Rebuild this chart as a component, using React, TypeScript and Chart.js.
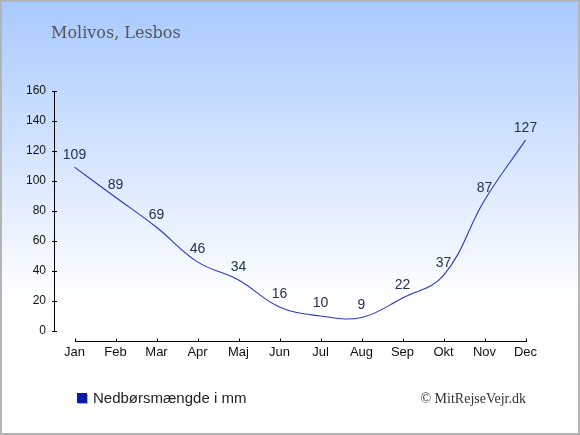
import { useEffect, useRef } from 'react';
import { Chart, registerables } from 'chart.js';

Chart.register(...registerables);

const months = ['Jan', 'Feb', 'Mar', 'Apr', 'Maj', 'Jun', 'Jul', 'Aug', 'Sep', 'Okt', 'Nov', 'Dec'];
const precipitation = [109, 89, 69, 46, 34, 16, 10, 9, 22, 37, 87, 127];
const yMin = 0;
const yMax = 160;
const yStep = 20;
const chartTitle = 'Molivos, Lesbos';
const seriesLabel = 'Nedbørsmængde i mm';
const credit = '© MitRejseVejr.dk';

export default function App() {
  const ref = useRef<HTMLCanvasElement>(null);

  useEffect(() => {
    document.body.style.margin = '0';
    const canvas = ref.current;
    if (!canvas) return;

    const decor = {
      id: 'decor',
      beforeDraw(chart: any) {
        const { ctx, width, height } = chart;
        ctx.save();
        const g = ctx.createLinearGradient(0, 0, 0, 300);
        g.addColorStop(0, '#a8c9ff');
        g.addColorStop(1, '#ffffff');
        ctx.fillStyle = g;
        ctx.fillRect(0, 0, width, height);
        ctx.restore();
      },
      afterDraw(chart: any) {
        const { ctx, chartArea, width, height } = chart;
        const xs = chart.scales.x;
        const ys = chart.scales.y;
        ctx.save();
        ctx.strokeStyle = '#000000';
        ctx.lineWidth = 1;
        // y axis
        const ax = Math.round(chartArea.left) + 0.5;
        const yTop = Math.round(ys.getPixelForValue(yMax)) + 0.5;
        const yBot = Math.round(ys.getPixelForValue(yMin)) + 0.5;
        ctx.beginPath();
        ctx.moveTo(ax, yTop - 0.5);
        ctx.lineTo(ax, yBot + 0.5);
        for (let v = yMin; v <= yMax; v += yStep) {
          const py = Math.round(ys.getPixelForValue(v)) + 0.5;
          ctx.moveTo(ax - 2.5, py);
          ctx.lineTo(ax + 2.5, py);
        }
        ctx.stroke();
        // x axis
        const xAxisY = yBot + 10;
        const x0 = Math.round(xs.getPixelForValue(0)) + 0.5;
        const x1 = Math.round(xs.getPixelForValue(months.length - 1)) + 0.5;
        ctx.beginPath();
        ctx.moveTo(x0 - 0.5, xAxisY);
        ctx.lineTo(x1 + 0.5, xAxisY);
        for (let i = 0; i < months.length; i++) {
          const px = Math.round(xs.getPixelForValue(i)) + 0.5;
          ctx.moveTo(px, xAxisY - 3);
          ctx.lineTo(px, xAxisY);
        }
        ctx.stroke();

        // data labels
        const meta = chart.getDatasetMeta(0);
        ctx.fillStyle = '#233250';
        ctx.font = '14px "Liberation Sans", Arial, sans-serif';
        ctx.textAlign = 'center';
        ctx.textBaseline = 'alphabetic';
        meta.data.forEach((pt: any, i: number) => {
          ctx.fillText(String(precipitation[i]), pt.x, pt.y - 8.5);
        });

        // title
        ctx.fillStyle = '#555555';
        ctx.font = '16px "DejaVu Serif", serif';
        ctx.textAlign = 'left';
        ctx.fillText(chartTitle, 51, 37.5);

        // legend
        ctx.fillStyle = '#b0b0b0';
        ctx.fillRect(78, 394, 10, 10);
        ctx.fillStyle = '#0a1aa8';
        ctx.fillRect(77, 393, 10, 10);
        ctx.fillStyle = '#222222';
        ctx.font = '15px "Liberation Sans", Arial, sans-serif';
        ctx.fillText(seriesLabel, 93, 403);

        // credit
        ctx.fillStyle = '#333333';
        ctx.font = '14px "Liberation Serif", serif';
        ctx.textAlign = 'right';
        ctx.fillText(credit, 526, 403);

        // border
        ctx.strokeStyle = '#b4b4b4';
        ctx.lineWidth = 2;
        ctx.strokeRect(1, 1, width - 2, height - 2);
        ctx.restore();
      },
    };

    const chart = new Chart(canvas, {
      type: 'line',
      data: {
        labels: months,
        datasets: [
          {
            label: seriesLabel,
            data: precipitation,
            borderColor: '#2838c8',
            borderWidth: 1.1,
            pointRadius: 0,
            tension: 0.4,
            fill: false,
          },
        ],
      },
      options: {
        responsive: false,
        animation: false,
        devicePixelRatio: 1,
        layout: { padding: { top: 90.5, right: 34, bottom: 64, left: 0 } },
        plugins: {
          legend: { display: false },
          title: { display: false },
          tooltip: { enabled: false },
        },
        scales: {
          x: {
            type: 'category',
            offset: true,
            grid: { display: false, drawTicks: false },
            border: { display: false },
            ticks: {
              color: '#111111',
              font: { family: '"Liberation Sans", Arial, sans-serif', size: 13 },
              padding: 14,
              maxRotation: 0,
              autoSkip: false,
            },
            afterFit: (axis: any) => {
              axis.height = 40;
            },
          },
          y: {
            min: yMin,
            max: yMax,
            grid: { display: false, drawTicks: false },
            border: { display: false },
            ticks: {
              stepSize: yStep,
              color: '#111111',
              font: { family: '"Liberation Sans", Arial, sans-serif', size: 12 },
              padding: 8,
            },
            afterFit: (axis: any) => {
              axis.width = 54;
            },
          },
        },
      },
      plugins: [decor],
    });

    return () => chart.destroy();
  }, []);

  return (
    <canvas
      ref={ref}
      width={580}
      height={435}
      style={{ display: 'block', width: '580px', height: '435px' }}
    />
  );
}
